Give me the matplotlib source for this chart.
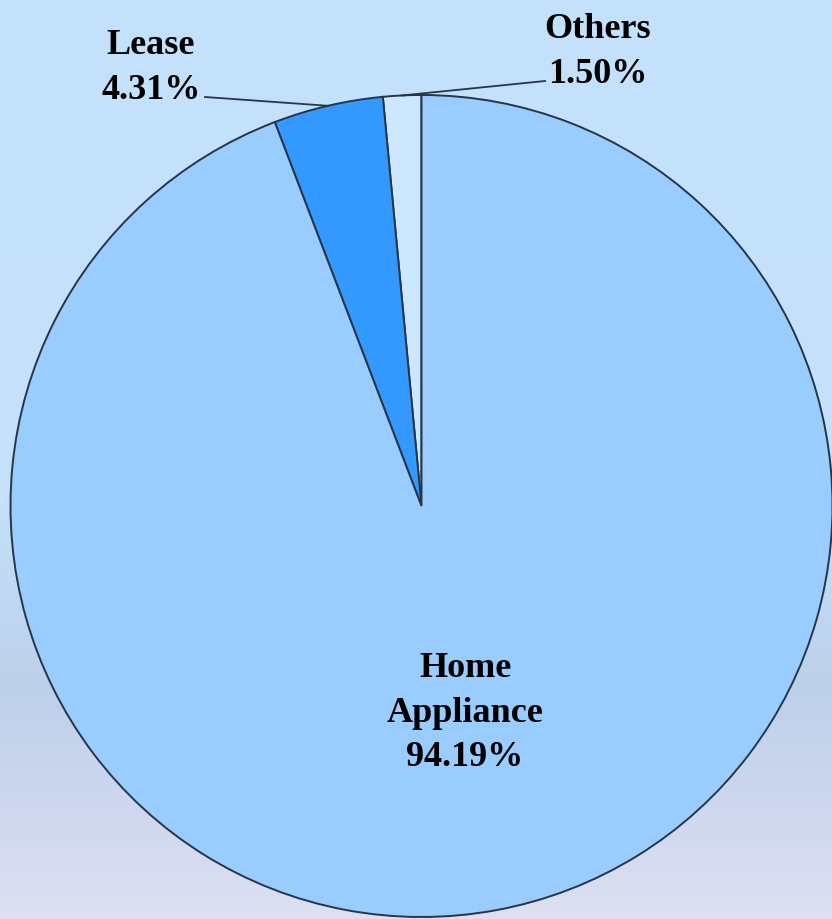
import numpy as np
import matplotlib
matplotlib.use("Agg")
import matplotlib.pyplot as plt
from matplotlib.colors import LinearSegmentedColormap

# Data
categories = ["Others", "Lease", "Home\nAppliance"]
values = [1.50, 4.31, 94.19]
colors = ["#cce8ff", "#3399ff", "#99ccff"]

W, H = 832, 919
fig = plt.figure(figsize=(W / 100, H / 100), dpi=100)

# background gradient
bg = fig.add_axes([0, 0, 1, 1], zorder=0)
bg.axis("off")
cmap = LinearSegmentedColormap.from_list(
    "bg", [(0.0, "#c5e2fc"), (0.55, "#c4e0fa"), (0.75, "#bdd0ea"), (1.0, "#dedff2")])
grad = np.linspace(0, 1, 256).reshape(-1, 1)
bg.imshow(grad, aspect="auto", cmap=cmap, extent=[0, 1, 1, 0])
bg.set_xlim(0, 1)
bg.set_ylim(1, 0)

ax = fig.add_axes([0, 0, 1, 1], zorder=1)
ax.patch.set_alpha(0)
ax.set_xlim(0, W)
ax.set_ylim(0, H)
ax.set_aspect("equal")
ax.axis("off")

edge = "#263646"
cx, cy, r = 421.5, H - 506, 411
wedges, _ = ax.pie(values, colors=colors, startangle=90, counterclock=True,
                   center=(cx, cy), radius=r,
                   wedgeprops=dict(edgecolor=edge, linewidth=1.4))
ax.set_xlim(0, W)
ax.set_ylim(0, H)

font = dict(family=["Liberation Serif", "DejaVu Serif"], fontweight="bold",
            fontsize=26, color="black", ha="center", va="center", linespacing=1.45)

def pct(v):
    return f"{v:.2f}%"

# label positions (pixels, y from top)
label_pos = [(598, 52), (151, 68), (465, 713)]
for w, name, v, (lx, ly) in zip(wedges, categories, values, label_pos):
    ax.text(lx, H - ly, f"{name}\n{pct(v)}", **font)

# leader lines for small slices
ends = [(545, 81), (205, 97)]
for w, (ex, ey) in zip(wedges[:2], ends):
    ang = np.deg2rad((w.theta1 + w.theta2) / 2)
    sx, sy = cx + r * np.cos(ang), cy + r * np.sin(ang)
    ax.plot([sx, ex], [sy, H - ey], color=edge, lw=1.3, zorder=5)

fig.savefig("out.png", dpi=100)
